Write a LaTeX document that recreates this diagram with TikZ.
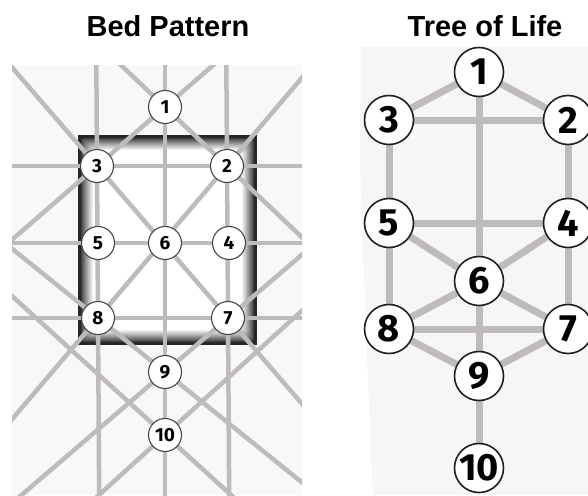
\documentclass[tikz,border=0pt]{standalone}
\usepackage{fontspec}
\setmainfont{Liberation Sans}
\newfontfamily\numfont{Fira Sans}
\usetikzlibrary{calc}
\pgfdeclarelayer{back}
\pgfdeclarelayer{bg}
\pgfsetlayers{back,bg,main}
\pgfdeclareradialshading{ballshade}{\pgfpoint{-3bp}{3bp}}{color(0bp)=(white);color(28bp)=(white);color(42bp)=(black!12);color(50bp)=(black!32)}
\definecolor{linegray}{RGB}{192,187,187}
\definecolor{panelbg}{RGB}{248,248,248}
\definecolor{panelbgb}{RGB}{246,246,246}
\tikzset{
  bnode/.style={circle, draw=black!72, line width=1.1pt, shade, shading=ballshade,
    minimum size=33pt, inner sep=0pt, font=\numfont\bfseries\fontsize{19}{19}\selectfont},
  tnode/.style={circle, draw=black!88, line width=1.6pt, shade, shading=ballshade,
    minimum size=49pt, inner sep=0pt, font=\numfont\bfseries\fontsize{38}{38}\selectfont},
  bline/.style={draw=linegray, line width=4.5pt},
  tline/.style={draw=linegray, line width=7pt},
  titletext/.style={font=\bfseries\fontsize{29}{29}\selectfont, anchor=base}
}
\begin{document}
\begin{tikzpicture}[x=1pt,y=-1pt]
\useasboundingbox (0,0) rectangle (588,495);

% titles
\node[titletext] (title1) at (168,37) {Bed Pattern};
\node[titletext] (title2) at (485,37) {Tree of Life};

% ---------- Bed pattern nodes ----------
\node[bnode] (b1) at (165,107) {1};
\node[bnode] (b3) at (97,166) {3};
\node[bnode] (b2) at (227,166) {2};
\node[bnode] (b5) at (98,243) {5};
\node[bnode] (b6) at (165,243) {6};
\node[bnode] (b4) at (229,243) {4};
\node[bnode] (b8) at (98,318) {8};
\node[bnode] (b7) at (228,318) {7};
\node[bnode] (b9) at (165,372) {9};
\node[bnode] (b10) at (165,435) {10};
\coordinate (bl10) at (13,297);
\coordinate (br10) at (317,297);

\begin{pgfonlayer}{back}
  \fill[white] (0,0) rectangle (588,495);
  \fill[panelbg] (12,65) rectangle (302,495);
  % framed box with inner glow
  \foreach \i in {0,...,15}{
    \pgfmathsetmacro\c{100*min(1,max(0,(\i-2)/13))^0.85}
    \fill[white!\c!black!85, rounded corners=0.6*\i] (78+\i,135+\i) rectangle (257-\i,345-\i);
  }
  % tree of life panel
  \fill[panelbgb] (361,47) -- (588,47) -- (588,495) -- (373,495) -- (366,330) -- (360,160) -- cycle;
\end{pgfonlayer}

\begin{pgfonlayer}{bg}
\begin{scope}
  \clip (12,65) rectangle (302,495);
  % verticals
  \draw[bline] ($(b3)!-6!(b8)$) -- ($(b3)!6!(b8)$);
  \draw[bline] ($(b1)!-3!(b10)$) -- ($(b1)!3!(b10)$);
  \draw[bline] ($(b2)!-6!(b7)$) -- ($(b2)!6!(b7)$);
  % horizontals
  \draw[bline] ($(b3)!-3!(b2)$) -- ($(b3)!3!(b2)$);
  \draw[bline] ($(b5)!-3!(b4)$) -- ($(b5)!3!(b4)$);
  \draw[bline] ($(b8)!-3!(b7)$) -- ($(b8)!3!(b7)$);
  % long diagonals
  \draw[bline] ($(b3)!-3!(b7)$) -- ($(b3)!3!(b7)$);
  \draw[bline] ($(b2)!-3!(b8)$) -- ($(b2)!3!(b8)$);
  % upper diagonals through 1
  \draw[bline] ($(b1)!-5!(b3)$) -- ($(b1)!5!(b3)$);
  \draw[bline] ($(b1)!-5!(b2)$) -- ($(b1)!5!(b2)$);
  % diagonals through 9
  \draw[bline] ($(b8)!-5!(b9)$) -- ($(b8)!5!(b9)$);
  \draw[bline] ($(b7)!-5!(b9)$) -- ($(b7)!5!(b9)$);
  % diagonals through 10
  \draw[bline] ($(b10)!-3!(bl10)$) -- ($(b10)!3!(bl10)$);
  \draw[bline] ($(b10)!-3!(br10)$) -- ($(b10)!3!(br10)$);
\end{scope}
\end{pgfonlayer}

% ---------- Tree of Life nodes ----------
\node[tnode] (t1) at (479,72) {1};
\node[tnode] (t3) at (389,120) {3};
\node[tnode] (t2) at (568,120) {2};
\node[tnode] (t5) at (389,223) {5};
\node[tnode] (t4) at (568,223) {4};
\node[tnode] (t6) at (479,281) {6};
\node[tnode] (t8) at (389,329) {8};
\node[tnode] (t7) at (568,329) {7};
\node[tnode] (t9) at (479,376) {9};
\node[tnode] (t10) at (479,468) {10};

\begin{pgfonlayer}{bg}
  \draw[tline] (t1.center) -- (t10.center);
  \draw[tline] (t1) -- (t3);
  \draw[tline] (t1) -- (t2);
  \draw[tline] (t3) -- (t2);
  \draw[tline] (t3) -- (t5);
  \draw[tline] (t2) -- (t4);
  \draw[tline] (t5) -- (t4);
  \draw[tline] (t5) -- (t6);
  \draw[tline] (t4) -- (t6);
  \draw[tline] (t5) -- (t8);
  \draw[tline] (t4) -- (t7);
  \draw[tline] (t6) -- (t8);
  \draw[tline] (t6) -- (t7);
  \draw[tline] (t8) -- (t7);
  \draw[tline] (t8) -- (t9);
  \draw[tline] (t7) -- (t9);
\end{pgfonlayer}
\end{tikzpicture}
\end{document}
